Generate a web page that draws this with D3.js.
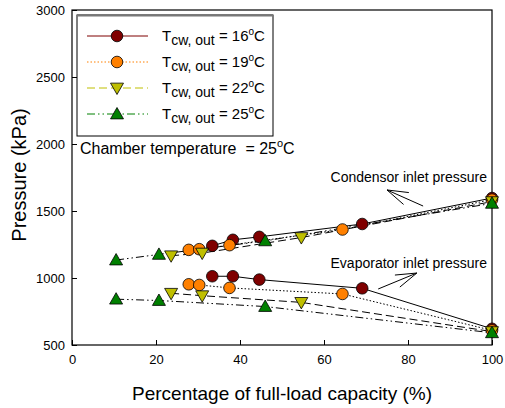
<!DOCTYPE html>
<html>
<head>
<meta charset="utf-8">
<script src="https://cdn.jsdelivr.net/npm/d3@7"></script>
<style>
body { margin: 0; background: #fff; }
svg { font-family: "Liberation Sans", Arial, sans-serif; }
</style>
</head>
<body>
<div id="chart"></div>
<script>
// outlet water temperatures (legend)
var temps = [16, 19, 22, 25];

// load (%) and pressures (kPa)
var load16 = [33.4, 38.3, 44.6, 69.1, 100];
var cond16 = [1240, 1285, 1307, 1403, 1597];
var evap16 = [1013, 1013, 988, 923, 621];

var load19 = [27.8, 30.3, 37.5, 64.4, 100];
var cond19 = [1210, 1215, 1245, 1362, 1585];
var evap19 = [953, 948, 926, 881, 609];

var load22 = [23.6, 31.0, 54.6, 100];
var cond22 = [1166, 1186, 1302, 1570];
var evap22 = [886, 868, 818, 600];

var load25 = [10.5, 20.7, 46.0, 100];
var cond25 = [1134, 1176, 1277, 1557];
var evap25 = [842, 832, 787, 591];

var xTicks = [0, 20, 40, 60, 80, 100];
var yTicks = [500, 1000, 1500, 2000, 2500, 3000];

var colors = ["#7f0000", "#ff8000", "#bfbf00", "#008000"];
var dashes = [null, "1.5,2", "8,4", "8,3,1.5,3,1.5,3"];
var shapes = ["circle", "circle", "down", "up"];

var series = [
  {load: load16, cond: cond16, evap: evap16},
  {load: load19, cond: cond19, evap: evap19},
  {load: load22, cond: cond22, evap: evap22},
  {load: load25, cond: cond25, evap: evap25}
];

var W = 505, H = 408;
var svg = d3.select("#chart").append("svg").attr("width", W).attr("height", H);

var x = d3.scaleLinear().domain([0, 100]).range([72, 492]);
var y = d3.scaleLinear().domain([500, 3000]).range([345, 10]);

// frame
svg.append("rect").attr("x", 72).attr("y", 10).attr("width", 420).attr("height", 335)
  .attr("fill", "none").attr("stroke", "#000").attr("stroke-width", 1.2);

var xAxis = svg.append("g").attr("transform", "translate(0,345)")
  .call(d3.axisBottom(x).tickValues(xTicks).tickFormat(d3.format("d"))
    .tickSizeInner(-5).tickSizeOuter(0).tickPadding(10));
var yAxis = svg.append("g").attr("transform", "translate(72,0)")
  .call(d3.axisLeft(y).tickValues(yTicks).tickFormat(d3.format("d"))
    .tickSizeInner(-5).tickSizeOuter(0).tickPadding(7));
[xAxis, yAxis].forEach(function(a) {
  a.select(".domain").remove();
  a.selectAll("text").style("font-size", "13px").attr("fill", "#000").style("font-family", "Liberation Sans, Arial, sans-serif");
  a.selectAll("line").attr("stroke", "#000");
});

// axis titles
svg.append("text").attr("x", 282).attr("y", 400).attr("text-anchor", "middle")
  .style("font-size", "19px").text("Percentage of full-load capacity (%)");
svg.append("text").attr("transform", "translate(26,175) rotate(-90)").attr("text-anchor", "middle")
  .style("font-size", "20px").text("Pressure (kPa)");

// lines
var line = d3.line();
series.forEach(function(s, i) {
  ["cond", "evap"].forEach(function(k) {
    var pts = s.load.map(function(l, j) { return [x(l), y(s[k][j])]; });
    svg.append("path").attr("d", line(pts)).attr("fill", "none")
      .attr("stroke", "#000").attr("stroke-width", 1)
      .attr("stroke-dasharray", dashes[i]);
  });
});

function marker(g, shape, cx, cy, color) {
  if (shape === "circle") {
    g.append("circle").attr("cx", cx).attr("cy", cy).attr("r", 5.8)
      .attr("fill", color).attr("stroke", "#000").attr("stroke-width", 0.8);
  } else {
    var s = 6.5;
    var pts = shape === "up"
      ? [[cx, cy - s], [cx - s, cy + s * 0.75], [cx + s, cy + s * 0.75]]
      : [[cx, cy + s], [cx - s, cy - s * 0.75], [cx + s, cy - s * 0.75]];
    g.append("polygon").attr("points", pts.join(" "))
      .attr("fill", color).attr("stroke", "#000").attr("stroke-width", 0.8);
  }
}

var mk = svg.append("g");
series.forEach(function(s, i) {
  s.load.forEach(function(l, j) {
    marker(mk, shapes[i], x(l), y(s.cond[j]), colors[i]);
    marker(mk, shapes[i], x(l), y(s.evap[j]), colors[i]);
  });
});

// legend
var lg = svg.append("g");
lg.append("rect").attr("x", 77).attr("y", 15).attr("width", 196).attr("height", 121)
  .attr("fill", "#fff").attr("stroke", "#000").attr("stroke-width", 1);
lg.append("line").attr("x1", 77).attr("x2", 273).attr("y1", 15.5).attr("y2", 15.5)
  .attr("stroke", "#777").attr("stroke-width", 2);
temps.forEach(function(t, i) {
  var cy = 36 + i * 26;
  lg.append("line").attr("x1", 87).attr("x2", 148).attr("y1", cy).attr("y2", cy)
    .attr("stroke", colors[i]).attr("stroke-width", 1).attr("stroke-dasharray", dashes[i]);
  marker(lg, shapes[i], 117, cy, colors[i]);
  var tx = lg.append("text").attr("x", 162).attr("y", cy + 5).style("font-size", "15px");
  tx.append("tspan").text("T");
  tx.append("tspan").attr("dy", 4).style("font-size", "14px").text("cw, out");
  tx.append("tspan").attr("dy", -4).text(" = " + t);
  tx.append("tspan").attr("dy", -6).style("font-size", "10px").text("o");
  tx.append("tspan").attr("dy", 6).text("C");
});

// chamber temperature note
var ct = svg.append("text").attr("x", x(1.9)).attr("y", y(1925))
  .style("font-size", "16px").style("white-space", "pre");
ct.append("tspan").text("Chamber temperature  = 25");
ct.append("tspan").attr("dy", -7).style("font-size", "11px").text("o");
ct.append("tspan").attr("dy", 7).text("C");

// annotations
svg.append("text").attr("x", x(98.8)).attr("y", y(1719)).attr("text-anchor", "end")
  .style("font-size", "14px").text("Condensor inlet pressure");
svg.append("text").attr("x", x(98.8)).attr("y", y(1072)).attr("text-anchor", "end")
  .style("font-size", "14px").text("Evaporator inlet pressure");

function arrow(from, to) {
  var x1 = x(from[0]), y1 = y(from[1]), x2 = x(to[0]), y2 = y(to[1]);
  var a = Math.atan2(y2 - y1, x2 - x1), len = 22, spread = 0.3;
  var p = "M" + x1 + "," + y1 + "L" + x2 + "," + y2 +
    "M" + (x2 - len * Math.cos(a - spread)) + "," + (y2 - len * Math.sin(a - spread)) +
    "L" + x2 + "," + y2 +
    "L" + (x2 - len * Math.cos(a + spread)) + "," + (y2 - len * Math.sin(a + spread));
  svg.append("path").attr("d", p).attr("fill", "none").attr("stroke", "#000").attr("stroke-width", 1);
}
arrow([83.6, 1537], [75, 1657]);
arrow([72.9, 918], [82.1, 1037]);
</script>
</body>
</html>
